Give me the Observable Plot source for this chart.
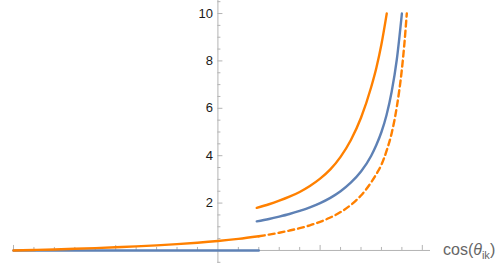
<!DOCTYPE html>
<html><head><meta charset="utf-8">
<script src="https://cdn.jsdelivr.net/npm/d3@7"></script>
<script src="https://cdn.jsdelivr.net/npm/@observablehq/plot@0.6"></script>
<style>body{margin:0;background:#fff} #chart svg{display:block}</style>
</head><body><div id="chart"></div>
<script>
// lower branch (x from -1 to 0.2)
const xLow = [-1, -0.9, -0.8, -0.7, -0.6, -0.5, -0.4, -0.3, -0.2, -0.1, 0, 0.1, 0.2];
const blueLow = [0, 0, 0, 0, 0, 0, 0, 0, 0, 0, 0, 0, 0];
const orangeLow = [0, 0.021, 0.044, 0.07, 0.1, 0.134, 0.171, 0.215, 0.267, 0.327, 0.4, 0.49, 0.6];
// upper blue branch
const blueUpX = [0.19, 0.25, 0.3, 0.35, 0.4, 0.45, 0.5, 0.55, 0.6, 0.65, 0.7, 0.75, 0.775, 0.8, 0.825, 0.85, 0.875, 0.9];
const blueUpY = [1.23, 1.33, 1.43, 1.54, 1.67, 1.82, 2.0, 2.22, 2.5, 2.86, 3.33, 4.0, 4.45, 5.0, 5.72, 6.7, 8.05, 10];
// upper orange branch
const orangeUpX = [0.19, 0.25, 0.3, 0.35, 0.4, 0.45, 0.5, 0.55, 0.6, 0.65, 0.7, 0.75, 0.775, 0.8, 0.826];
const orangeUpY = [1.8, 1.95, 2.1, 2.27, 2.47, 2.72, 3.03, 3.42, 3.95, 4.65, 5.6, 6.9, 7.7, 8.7, 10];
// dashed orange continuation
const dashX = [0.2, 0.25, 0.3, 0.35, 0.4, 0.45, 0.5, 0.55, 0.6, 0.65, 0.7, 0.75, 0.775, 0.8, 0.825, 0.85, 0.875, 0.9, 0.912, 0.924];
const dashY = [0.6, 0.67, 0.75, 0.84, 0.94, 1.06, 1.21, 1.39, 1.62, 1.92, 2.32, 2.88, 3.22, 3.62, 4.2, 4.95, 6.05, 7.65, 8.7, 10];
// ticks
const xMajorTicks = [-1, -0.5, 0.5, 1];
const xMinorTicks = [-0.9, -0.8, -0.7, -0.6, -0.4, -0.3, -0.2, -0.1, 0.1, 0.2, 0.3, 0.4, 0.6, 0.7, 0.8, 0.9];
const yMajorTicks = [2, 4, 6, 8, 10];
const yMinorTicks = [-0.5, 0.5, 1, 1.5, 2.5, 3, 3.5, 4.5, 5, 5.5, 6.5, 7, 7.5, 8.5, 9, 9.5, 10.5];
const xDomain = [-1, 1.04];
const yDomain = [-0.55, 10.55];

const toPts = (xs, ys) => xs.map((x, i) => ({x, y: ys[i]}));
const BLUE = "#5E81B5", ORANGE = "#FF8000", AX = "#b3b3b3", SW = 2.4;

const plot = Plot.plot({
  width: 500, height: 274,
  marginLeft: 13, marginRight: 70, marginTop: 0, marginBottom: 11,
  x: {domain: xDomain, axis: null},
  y: {domain: yDomain, axis: null},
  style: {fontFamily: "'Liberation Sans', Arial, sans-serif", fontSize: "13px", background: "white"},
  marks: [
    Plot.ruleY([0], {x1: xDomain[0], x2: xDomain[1], stroke: AX}),
    Plot.ruleX([0], {y1: yDomain[0], y2: yDomain[1], stroke: AX}),
    Plot.ruleX(xMajorTicks, {x: d => d, y1: 0, y2: 0, insetBottom: 5, stroke: AX}),
    Plot.ruleX(xMinorTicks, {x: d => d, y1: 0, y2: 0, insetBottom: 3, stroke: AX}),
    Plot.ruleY(yMajorTicks, {y: d => d, x1: 0, x2: 0, insetRight: -5, stroke: AX}),
    Plot.ruleY(yMinorTicks, {y: d => d, x1: 0, x2: 0, insetRight: -3, stroke: AX}),
    Plot.text(yMajorTicks, {x: 0, y: d => d, text: d => String(d), textAnchor: "end", dx: -5, fill: "#1a1a1a", fontSize: 13}),
    Plot.line(toPts(xLow, blueLow), {x: "x", y: "y", stroke: BLUE, strokeWidth: SW}),
    Plot.line(toPts(blueUpX, blueUpY), {x: "x", y: "y", stroke: BLUE, strokeWidth: SW, curve: "monotone-x"}),
    Plot.line(toPts(xLow, orangeLow), {x: "x", y: "y", stroke: ORANGE, strokeWidth: SW, curve: "monotone-x"}),
    Plot.line(toPts(orangeUpX, orangeUpY), {x: "x", y: "y", stroke: ORANGE, strokeWidth: SW, curve: "monotone-x"}),
    Plot.line(toPts(dashX, dashY), {x: "x", y: "y", stroke: ORANGE, strokeWidth: SW, strokeDasharray: "6,4", curve: "monotone-x"})
  ]
});
document.getElementById("chart").appendChild(plot);

// axis label with italic theta and subscript
const sx = plot.scale("x"), sy = plot.scale("y");
const lbl = d3.select(plot).append("text")
  .attr("x", sx.apply(xDomain[1]) + 13)
  .attr("y", sy.apply(0) + 5)
  .attr("text-anchor", "start")
  .attr("fill", "#666")
  .attr("font-size", 16)
  .attr("font-family", "'Liberation Sans', Arial, sans-serif");
lbl.append("tspan").text("cos(");
lbl.append("tspan").attr("font-style", "italic").text("θ");
lbl.append("tspan").attr("font-size", 11).attr("dy", 4).text("ik");
lbl.append("tspan").attr("dy", -4).text(")");
</script>
</body></html>
